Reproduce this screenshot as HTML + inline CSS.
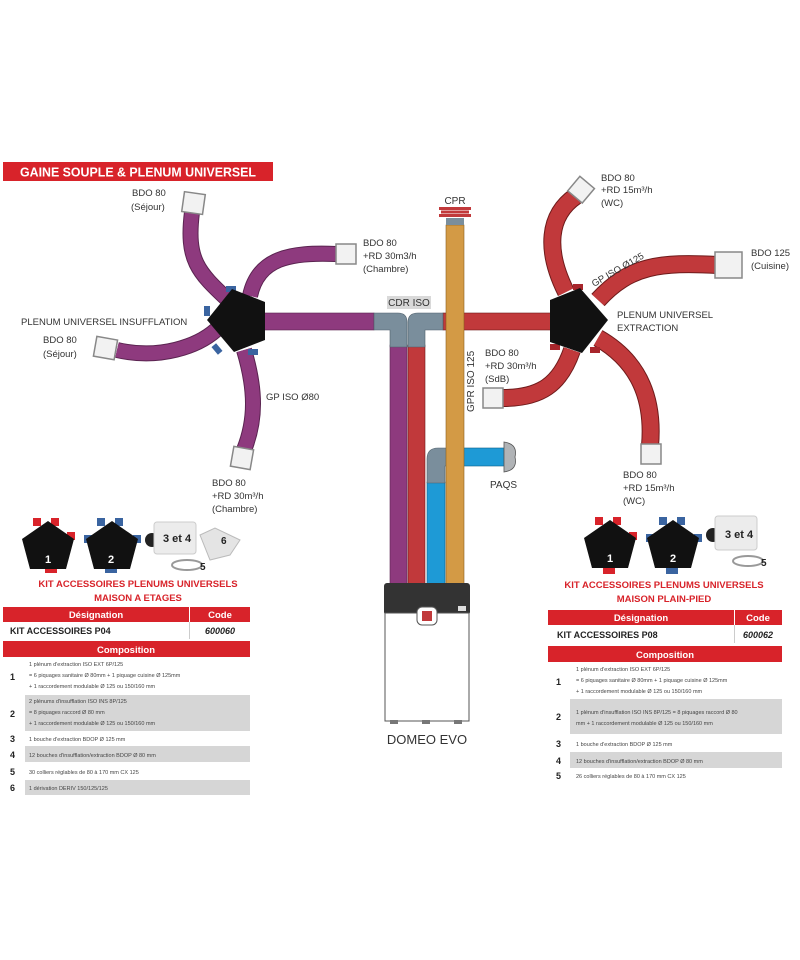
<!DOCTYPE html>
<html><head><meta charset="utf-8"><style>
html,body{margin:0;padding:0;background:#fff;}
svg{display:block;font-family:"Liberation Sans",sans-serif;}
</style></head><body>
<svg width="800" height="960" viewBox="0 0 800 960" xmlns="http://www.w3.org/2000/svg">
<rect width="800" height="960" fill="#fff"/>
<!-- header -->
<rect x="3" y="162" width="270" height="19" fill="#d8232a"/>
<text x="20" y="176.5" font-size="13" font-weight="bold" fill="#fff" textLength="236" lengthAdjust="spacingAndGlyphs">GAINE SOUPLE &amp; PLENUM UNIVERSEL</text>

<g fill="none" stroke-linecap="butt">
<g stroke="#5a2350" stroke-width="16"><path d="M192,212 C186,260 198,272 228,300"/><path d="M250,296 C258,258 290,252 336,254"/><path d="M117,350 C160,360 198,346 216,330"/><path d="M244,350 C256,390 256,420 244,450"/></g>
<g stroke="#8e3a7e" stroke-width="14"><path d="M192,212 C186,260 198,272 228,300"/><path d="M250,296 C258,258 290,252 336,254"/><path d="M117,350 C160,360 198,346 216,330"/><path d="M244,350 C256,390 256,420 244,450"/></g>
<g stroke="#6e1a1a" stroke-width="18"><path d="M566,292 C545,250 548,215 576,196"/><path d="M598,300 C630,265 660,262 718,265"/><path d="M572,350 C560,385 540,398 503,398"/><path d="M598,338 C640,362 654,400 650,446"/></g>
<g stroke="#c1393b" stroke-width="16"><path d="M566,292 C545,250 548,215 576,196"/><path d="M598,300 C630,265 660,262 718,265"/><path d="M572,350 C560,385 540,398 503,398"/><path d="M598,338 C640,362 654,400 650,446"/></g>
</g>
<rect x="262" y="313" width="112" height="17" fill="#8e3a7e" stroke="#5a2350" stroke-width="0.6"/>
<rect x="443" y="313" width="110" height="17" fill="#c1393b" stroke="#6e1a1a" stroke-width="0.6"/>
<rect x="390" y="345" width="17" height="240" fill="#8e3a7e" stroke="#5a2350" stroke-width="0.6"/>
<rect x="408" y="345" width="17" height="240" fill="#c1393b" stroke="#6e1a1a" stroke-width="0.6"/>
<rect x="427" y="482" width="18" height="103" fill="#1e9ad6" stroke="#0c5f87" stroke-width="0.6"/>
<path d="M374,313 L398,313 Q407,313 407,322 L407,347 L390,347 L390,330 L374,330 Z" fill="#7a8e9c" stroke="#4f5f6a" stroke-width="0.6"/>
<path d="M443,313 L418,313 Q408,313 408,322 L408,347 L425,347 L425,330 L443,330 Z" fill="#7a8e9c" stroke="#4f5f6a" stroke-width="0.6"/>
<rect x="387" y="296" width="44" height="13" fill="#d9d9d9"/>
<text x="409" y="306" font-size="10" fill="#333" text-anchor="middle">CDR ISO</text>
<path d="M460,448 L438,448 Q427,448 427,459 L427,483 L445,483 L445,466 L460,466 Z" fill="#7a8e9c" stroke="#4f5f6a" stroke-width="0.6"/>
<rect x="460" y="448" width="44" height="18" fill="#1e9ad6" stroke="#0c5f87" stroke-width="0.6"/>
<path d="M504,442 Q518,444 515,457 Q518,470 504,472 Z" fill="#b0b3b6" stroke="#555" stroke-width="0.8"/>
<text x="490" y="488" font-size="10" fill="#333">PAQS</text>
<rect x="446" y="225" width="18" height="360" fill="#d39a45" stroke="#8a5f1e" stroke-width="0.6"/>
<rect x="446" y="218" width="18" height="7" fill="#7a8e9c"/>
<g fill="#c1393b"><rect x="439" y="207" width="32" height="3"/><rect x="441" y="210.5" width="28" height="3"/><rect x="439" y="214" width="32" height="3"/></g>
<text x="455" y="204" font-size="10" fill="#333" text-anchor="middle">CPR</text>
<text transform="translate(474,412) rotate(-90)" font-size="10" fill="#333">GPR ISO 125</text>
<g fill="#3a64a0"><rect x="226" y="286" width="10" height="6"/><rect x="204" y="306" width="6" height="10"/><rect x="214" y="344" width="6" height="10" transform="rotate(-40 217 349)"/><rect x="248" y="349" width="10" height="6"/></g>
<polygon points="232,289 265,302 265,340 234,352 207,320" fill="#111"/>
<g fill="#a8262c"><rect x="573" y="284" width="10" height="6"/><rect x="550" y="344" width="10" height="6"/><rect x="590" y="347" width="10" height="6"/></g>
<polygon points="550,300 580,288 608,320 582,353 550,342" fill="#111"/>
<g fill="#f2f2f2" stroke="#888" stroke-width="1.5">
<rect x="183" y="193" width="21" height="20" transform="rotate(8 193 203)"/>
<rect x="336" y="244" width="20" height="20"/>
<rect x="95" y="338" width="21" height="20" transform="rotate(10 105 348)"/>
<rect x="232" y="448" width="20" height="20" transform="rotate(10 242 458)"/>
<rect x="572" y="180" width="19" height="19" transform="rotate(40 581 189)"/>
<rect x="715" y="252" width="27" height="26"/>
<rect x="483" y="388" width="20" height="20"/>
<rect x="641" y="444" width="20" height="20"/>
</g>
<g font-size="9.5" fill="#333">
<text x="132" y="196">BDO 80</text><text x="131" y="210">(Séjour)</text>
<text x="363" y="246">BDO 80</text><text x="363" y="259">+RD 30m3/h</text><text x="363" y="272">(Chambre)</text>
<text x="21" y="325">PLENUM UNIVERSEL INSUFFLATION</text>
<text x="43" y="343">BDO 80</text><text x="43" y="357">(Séjour)</text>
<text x="266" y="400">GP ISO Ø80</text>
<text x="212" y="486">BDO 80</text><text x="212" y="499">+RD 30m³/h</text><text x="212" y="512">(Chambre)</text>
<text x="601" y="181">BDO 80</text><text x="601" y="193">+RD 15m³/h</text><text x="601" y="206">(WC)</text>
<text x="751" y="256">BDO 125</text><text x="751" y="269">(Cuisine)</text>
<text transform="translate(594,287) rotate(-30)">GP ISO Ø125</text>
<text x="617" y="318">PLENUM UNIVERSEL</text><text x="617" y="331">EXTRACTION</text>
<text x="485" y="356">BDO 80</text><text x="485" y="369">+RD 30m³/h</text><text x="485" y="382">(SdB)</text>
<text x="623" y="478">BDO 80</text><text x="623" y="491">+RD 15m³/h</text><text x="623" y="504">(WC)</text>
</g>
<rect x="384" y="583" width="86" height="32" rx="3" fill="#333"/>
<rect x="385" y="613" width="84" height="108" fill="#fff" stroke="#555" stroke-width="1"/>
<rect x="417" y="607" width="20" height="18" rx="5" fill="#fff" stroke="#555"/>
<rect x="422" y="611" width="10" height="10" fill="#c1393b"/>
<rect x="458" y="606" width="8" height="5" fill="#ddd"/>
<rect x="390" y="720" width="8" height="4" fill="#777"/><rect x="422" y="720" width="8" height="4" fill="#777"/><rect x="454" y="720" width="8" height="4" fill="#777"/>
<text x="427" y="744" font-size="13" fill="#333" text-anchor="middle">DOMEO EVO</text>

<g>
<g fill="#d8232a"><rect x="33" y="518" width="8" height="8"/><rect x="51" y="518" width="8" height="8"/><rect x="67" y="532" width="8" height="8"/><rect x="45" y="566" width="12" height="7"/></g>
<polygon points="48,521 74,539 66,569 30,569 22,539" fill="#111"/>
<text x="48" y="563" font-size="11" fill="#fff" text-anchor="middle" font-weight="bold">1</text>
<g fill="#3a64a0"><rect x="97" y="518" width="8" height="8"/><rect x="115" y="518" width="8" height="8"/><rect x="133" y="535" width="8" height="8"/><rect x="84" y="535" width="8" height="8"/><rect x="105" y="566" width="12" height="7"/></g>
<polygon points="112,521 138,539 130,569 94,569 86,539" fill="#111"/>
<text x="111" y="563" font-size="11" fill="#fff" text-anchor="middle" font-weight="bold">2</text>
<circle cx="152" cy="540" r="7" fill="#222"/>
<rect x="154" y="522" width="42" height="32" rx="3" fill="#ececec" stroke="#ccc"/>
<text x="163" y="542" font-size="11" font-weight="bold" fill="#222">3 et 4</text>
<ellipse cx="187" cy="565" rx="15" ry="5" fill="none" stroke="#999" stroke-width="2"/>
<text x="200" y="570" font-size="10" font-weight="bold" fill="#222">5</text>
<path d="M200,535 L215,528 L240,540 L230,555 L210,560 Z" fill="#e4e4e4" stroke="#bbb"/>
<text x="221" y="544" font-size="10" font-weight="bold" fill="#222">6</text>
</g>
<g>
<g fill="#d8232a"><rect x="595" y="517" width="8" height="8"/><rect x="613" y="517" width="8" height="8"/><rect x="629" y="532" width="8" height="8"/><rect x="603" y="567" width="12" height="7"/></g>
<polygon points="610,520 636,538 628,568 592,568 584,538" fill="#111"/>
<text x="610" y="562" font-size="11" fill="#fff" text-anchor="middle" font-weight="bold">1</text>
<g fill="#3a64a0"><rect x="659" y="517" width="8" height="8"/><rect x="677" y="517" width="8" height="8"/><rect x="694" y="534" width="8" height="8"/><rect x="646" y="534" width="8" height="8"/><rect x="666" y="567" width="12" height="7"/></g>
<polygon points="673,520 699,538 691,568 655,568 647,538" fill="#111"/>
<text x="673" y="562" font-size="11" fill="#fff" text-anchor="middle" font-weight="bold">2</text>
<circle cx="713" cy="535" r="7" fill="#222"/>
<rect x="715" y="516" width="42" height="34" rx="3" fill="#ececec" stroke="#ccc"/>
<text x="725" y="538" font-size="11" font-weight="bold" fill="#222">3 et 4</text>
<ellipse cx="748" cy="561" rx="15" ry="5" fill="none" stroke="#999" stroke-width="2"/>
<text x="761" y="566" font-size="10" font-weight="bold" fill="#222">5</text>
</g>

<g font-size="9.5" font-weight="bold" fill="#d8232a" text-anchor="middle">
<text x="138" y="587">KIT ACCESSOIRES PLENUMS UNIVERSELS</text>
<text x="138" y="601">MAISON A ETAGES</text>
<text x="664" y="588">KIT ACCESSOIRES PLENUMS UNIVERSELS</text>
<text x="664" y="602">MAISON PLAIN-PIED</text>
</g>
<rect x="3" y="607" width="186" height="15" fill="#d8232a"/><rect x="190" y="607" width="60" height="15" fill="#d8232a"/>
<text x="96" y="618" font-size="9.5" font-weight="bold" fill="#fff" text-anchor="middle">Désignation</text>
<text x="220" y="618" font-size="9.5" font-weight="bold" fill="#fff" text-anchor="middle">Code</text>
<rect x="189" y="622" width="1" height="17" fill="#ccc"/>
<text x="10" y="634" font-size="9" font-weight="bold" fill="#222">KIT ACCESSOIRES  P04</text>
<text x="220" y="634" font-size="9" font-weight="bold" font-style="italic" fill="#222" text-anchor="middle">600060</text>
<rect x="3" y="641" width="247" height="16" fill="#d8232a"/>
<text x="126" y="653" font-size="9.5" font-weight="bold" fill="#fff" text-anchor="middle">Composition</text>
<rect x="25" y="695" width="225" height="36" fill="#d6d6d6"/>
<rect x="25" y="746" width="225" height="16" fill="#d6d6d6"/>
<rect x="25" y="780" width="225" height="15" fill="#d6d6d6"/>
<g font-size="9" font-weight="bold" fill="#222"><text x="10" y="680">1</text><text x="10" y="717">2</text><text x="10" y="742">3</text><text x="10" y="758">4</text><text x="10" y="775">5</text><text x="10" y="791">6</text></g>
<g font-size="5.5" fill="#444">
<text x="29" y="666">1 plénum d'extraction ISO EXT 6P/125</text>
<text x="29" y="677">= 6 piquages sanitaire Ø 80mm + 1 piquage cuisine Ø 125mm</text>
<text x="29" y="688">+ 1 raccordement modulable Ø 125 ou  150/160 mm</text>
<text x="29" y="703">2 plénums d'insufflation ISO INS 8P/125</text>
<text x="29" y="714">= 8 piquages raccord Ø 80 mm</text>
<text x="29" y="725">+ 1 raccordement modulable Ø 125 ou  150/160 mm</text>
<text x="29" y="741">1 bouche d'extraction BDOP Ø 125 mm</text>
<text x="29" y="757">12 bouches d'insufflation/extraction BDOP Ø 80 mm</text>
<text x="29" y="774">30 colliers réglables de 80 à 170 mm CX 125</text>
<text x="29" y="790">1 dérivation DERIV 150/125/125</text>
</g>

<rect x="548" y="610" width="186" height="15" fill="#d8232a"/><rect x="735" y="610" width="47" height="15" fill="#d8232a"/>
<text x="641" y="621" font-size="9.5" font-weight="bold" fill="#fff" text-anchor="middle">Désignation</text>
<text x="758" y="621" font-size="9.5" font-weight="bold" fill="#fff" text-anchor="middle">Code</text>
<rect x="734" y="625" width="1" height="18" fill="#ccc"/>
<text x="557" y="638" font-size="9" font-weight="bold" fill="#222">KIT ACCESSOIRES  P08</text>
<text x="758" y="638" font-size="9" font-weight="bold" font-style="italic" fill="#222" text-anchor="middle">600062</text>
<rect x="548" y="646" width="234" height="16" fill="#d8232a"/>
<text x="665" y="658" font-size="9.5" font-weight="bold" fill="#fff" text-anchor="middle">Composition</text>
<rect x="570" y="699" width="212" height="35" fill="#d6d6d6"/>
<rect x="570" y="752" width="212" height="16" fill="#d6d6d6"/>
<g font-size="9" font-weight="bold" fill="#222"><text x="556" y="685">1</text><text x="556" y="720">2</text><text x="556" y="747">3</text><text x="556" y="764">4</text><text x="556" y="779">5</text></g>
<g font-size="5.5" fill="#444">
<text x="576" y="671">1 plénum d'extraction ISO EXT 6P/125</text>
<text x="576" y="682">= 6 piquages sanitaire Ø 80mm + 1 piquage cuisine Ø 125mm</text>
<text x="576" y="693">+ 1 raccordement modulable Ø 125 ou  150/160 mm</text>
<text x="576" y="714">1 plénum d'insufflation ISO INS 8P/125 = 8 piquages raccord Ø 80</text>
<text x="576" y="725">mm + 1 raccordement modulable Ø 125 ou  150/160 mm</text>
<text x="576" y="746">1 bouche d'extraction BDOP Ø 125 mm</text>
<text x="576" y="763">12 bouches d'insufflation/extraction BDOP Ø 80 mm</text>
<text x="576" y="778">26 colliers réglables de 80 à 170 mm CX 125</text>
</g>
</svg>
</body></html>
